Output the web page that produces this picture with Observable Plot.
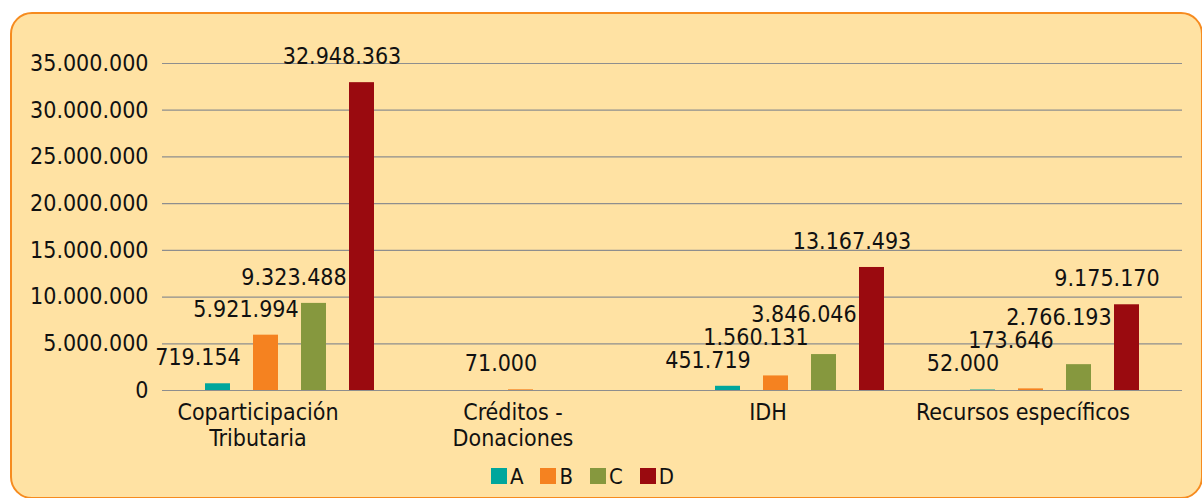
<!DOCTYPE html>
<html>
<head>
<meta charset="utf-8">
<script src="https://cdn.jsdelivr.net/npm/d3@7"></script>
<script src="https://cdn.jsdelivr.net/npm/@observablehq/plot@0.6"></script>
<style>
  html, body { margin: 0; padding: 0; background: #ffffff; }
  body { width: 1202px; height: 498px; overflow: hidden; position: relative; }
  #card {
    position: absolute; left: 10px; top: 12px;
    width: 1193px; height: 487px; box-sizing: border-box;
    border: 2px solid #F68B1F; border-radius: 22px;
    background: #FFE2A3; overflow: hidden;
  }
  #chart { position: absolute; left: 0; top: 0; }
  #legend {
    position: absolute; left: 0; right: 0; top: 453px;
    display: flex; justify-content: center; gap: 17px;
    transform: translateX(-24px);
    font-family: "DejaVu Sans Condensed", "Liberation Sans Narrow", sans-serif;
    font-size: 22px; color: #111;
  }
  #legend .item { display: flex; align-items: center; gap: 3px; height: 18px; }
  #legend .sw { width: 16px; height: 16px; display: inline-block; }
</style>
</head>
<body>
<div id="card">
  <div id="chart"></div>
  <div id="legend"></div>
</div>
<script>
const categories = ["Coparticipación Tributaria", "Créditos - Donaciones", "IDH", "Recursos específicos"];
const categoryLabels = ["Coparticipación\nTributaria", "Créditos -\nDonaciones", "IDH", "Recursos específicos"];
const series = ["A", "B", "C", "D"];
const seriesColors = ["#00A69C", "#F58220", "#86983E", "#9A0A0F"];
const valuesA = [719154, null, 451719, 52000];
const valuesB = [5921994, 71000, 1560131, 173646];
const valuesC = [9323488, null, 3846046, 2766193];
const valuesD = [32948363, null, 13167493, 9175170];
const yTicks = [0, 5000000, 10000000, 15000000, 20000000, 25000000, 30000000, 35000000];

const FONT = '"DejaVu Sans Condensed", "Liberation Sans Narrow", sans-serif';
const FS = 23;
const W = 1189, H = 440, MT = 49, MB = 64, ML = 149, MR = 18;
const yMax = 35000000;
const unitsPerPx = yMax / (H - MT - MB);
const stagger = 23 * unitsPerPx;

const fmt = d3.formatLocale({decimal: ",", thousands: ".", grouping: [3], currency: ["", ""]}).format(",d");
const seriesValues = [valuesA, valuesB, valuesC, valuesD];

const rows = [];
categories.forEach((c, i) => {
  let prev = -Infinity;
  series.forEach((s, j) => {
    const v = seriesValues[j][i];
    if (v == null) return;
    const ly = Math.max(v, prev + stagger);
    prev = ly;
    rows.push({cat: c, s, v, ly});
  });
});

const chart = Plot.plot({
  width: W, height: H,
  marginLeft: ML, marginRight: MR, marginTop: MT, marginBottom: MB,
  style: {background: "transparent", fontFamily: FONT, fontSize: FS + "px", color: "#111", overflow: "visible"},
  fx: {domain: categories, padding: 0, label: null},
  x: {domain: series, paddingInner: 0.47, paddingOuter: 0.842, axis: null},
  y: {domain: [0, yMax]},
  color: {domain: series, range: seriesColors},
  marks: [
    Plot.gridY(yTicks, {stroke: "#8e8e8e", strokeOpacity: 1, strokeWidth: 1.2}),
    Plot.axisY(yTicks, {tickSize: 0, tickPadding: 14, tickFormat: fmt, label: null, fontSize: FS}),
    Plot.barY(rows, {fx: "cat", x: "s", y: "v", fill: "s"}),
    Plot.text(rows, {fx: "cat", x: "s", y: "ly", text: d => fmt(d.v), dy: -26, dx: -20, fontSize: FS, fill: "#111"}),
    Plot.axisFx({anchor: "bottom", tickSize: 0, tickPadding: 11, label: null, fontSize: FS, lineHeight: 1.12, dx: -32,
      tickFormat: c => categoryLabels[categories.indexOf(c)]})
  ]
});
document.getElementById("chart").appendChild(chart);

const legend = document.getElementById("legend");
series.forEach((s, j) => {
  const item = document.createElement("div");
  item.className = "item";
  const sw = document.createElement("span");
  sw.className = "sw";
  sw.style.background = seriesColors[j];
  const t = document.createElement("span");
  t.textContent = s;
  item.appendChild(sw);
  item.appendChild(t);
  legend.appendChild(item);
});
</script>
</body>
</html>
